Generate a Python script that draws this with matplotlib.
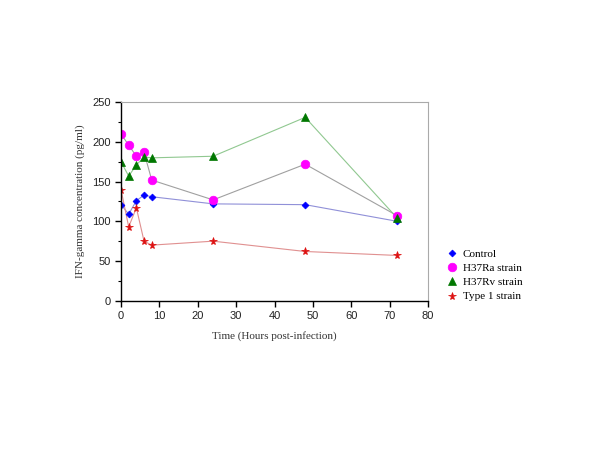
import matplotlib
matplotlib.use("Agg")
import matplotlib.pyplot as plt
from matplotlib.ticker import MultipleLocator

hours = [0, 2, 4, 6, 8, 24, 48, 72]
control = [121, 109, 126, 133, 131, 122, 121, 100]
h37ra = [210, 196, 182, 187, 152, 127, 172, 107]
h37rv = [175, 157, 171, 181, 180, 182, 231, 104]
type1 = [140, 93, 117, 75, 70, 75, 62, 57]

labels = ["Control", "H37Ra strain", "H37Rv strain", "Type 1 strain"]
series = [control, h37ra, h37rv, type1]
markers = ["D", "o", "^", "*"]
mcolors = ["#0000ff", "#ff00ff", "#007700", "#dd1111"]
lcolors = ["#9090d8", "#a0a0a0", "#90c890", "#e09090"]
msizes = [3.5, 6.2, 5.2, 5.8]

fig = plt.figure(figsize=(6, 4.5), dpi=100)
ax = fig.add_axes([0.2017, 0.3318, 0.5116, 0.4409])

handles = []
for y, lab, mk, mc, lc, ms in zip(series, labels, markers, mcolors, lcolors, msizes):
    ax.plot(hours, y, color=lc, lw=0.8, zorder=1)
    h, = ax.plot(hours, y, linestyle="none", marker=mk, color=mc, markersize=ms,
                 markeredgecolor=mc, markeredgewidth=0.5, label=lab, zorder=2)
    handles.append(h)

ax.set_xlim(0, 80)
ax.set_ylim(0, 250)
ax.xaxis.set_major_locator(MultipleLocator(10))
ax.yaxis.set_major_locator(MultipleLocator(50))
ax.yaxis.set_minor_locator(MultipleLocator(25))

for s in ["top", "right"]:
    ax.spines[s].set_color("#aaaaaa")
    ax.spines[s].set_linewidth(0.8)
for s in ["left", "bottom"]:
    ax.spines[s].set_color("black")
    ax.spines[s].set_linewidth(1.0)

ax.tick_params(axis="both", which="major", direction="out", length=4, width=1,
               labelsize=8, colors="black", labelcolor="#222222")
ax.tick_params(axis="y", which="minor", direction="out", length=2.5, width=0.8)
for t in ax.get_xticklabels() + ax.get_yticklabels():
    t.set_fontfamily("Liberation Sans")

ax.set_xlabel("Time (Hours post-infection)", fontfamily="Liberation Serif",
              fontsize=8, color="#333333", labelpad=7)
ax.set_ylabel("IFN-gamma concentration (pg/ml)", fontfamily="Liberation Serif",
              fontsize=8, color="#333333", labelpad=5)

fig.legend(handles=handles, labels=labels, loc="upper left",
           bbox_to_anchor=(446 / 600, 1 - 249 / 450), frameon=False,
           prop={"family": "Liberation Serif", "size": 8},
           handlelength=1.0, handletextpad=0.5, labelspacing=0.4,
           borderaxespad=0, borderpad=0)

fig.savefig("out.png", dpi=100)
